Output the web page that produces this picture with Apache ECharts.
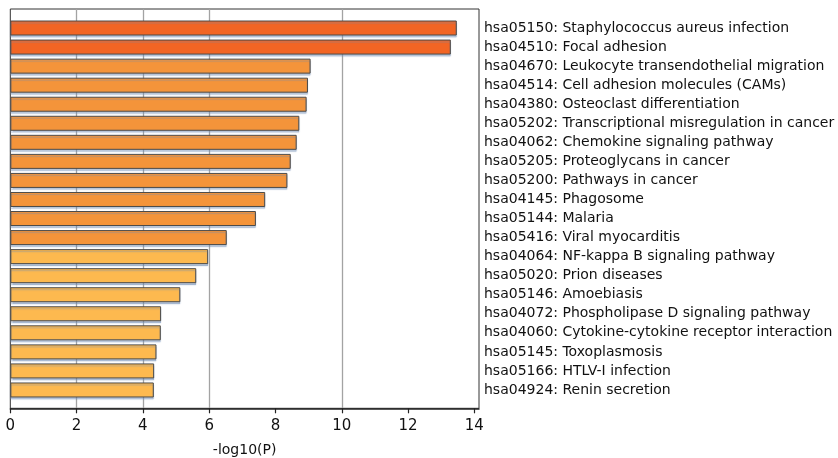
<!DOCTYPE html>
<html>
<head>
<meta charset="utf-8">
<script src="https://cdn.jsdelivr.net/npm/echarts@6/dist/echarts.min.js"></script>
<style>
  html, body { margin: 0; padding: 0; background: #fff; }
  #chart { width: 838px; height: 458px; }
</style>
</head>
<body>
<div id="chart"></div>
<script>
// KEGG pathway enrichment, top-down order
const pathways = [
  'hsa05150: Staphylococcus aureus infection',
  'hsa04510: Focal adhesion',
  'hsa04670: Leukocyte transendothelial migration',
  'hsa04514: Cell adhesion molecules (CAMs)',
  'hsa04380: Osteoclast differentiation',
  'hsa05202: Transcriptional misregulation in cancer',
  'hsa04062: Chemokine signaling pathway',
  'hsa05205: Proteoglycans in cancer',
  'hsa05200: Pathways in cancer',
  'hsa04145: Phagosome',
  'hsa05144: Malaria',
  'hsa05416: Viral myocarditis',
  'hsa04064: NF-kappa B signaling pathway',
  'hsa05020: Prion diseases',
  'hsa05146: Amoebiasis',
  'hsa04072: Phospholipase D signaling pathway',
  'hsa04060: Cytokine-cytokine receptor interaction',
  'hsa05145: Toxoplasmosis',
  'hsa05166: HTLV-I infection',
  'hsa04924: Renin secretion'
];
const negLog10P = [
  13.47, 13.29, 9.06, 8.98, 8.94, 8.72, 8.64, 8.46, 8.36, 7.69,
  7.41, 6.53, 5.97, 5.61, 5.13, 4.55, 4.54, 4.41, 4.34, 4.33
];
// significance tier of each term: 0 strongest, 2 weakest
const tiers = [0, 0, 1, 1, 1, 1, 1, 1, 1, 1, 1, 1, 2, 2, 2, 2, 2, 2, 2, 2];
const tierColors = ['#f26524', '#f4943a', '#fdb94f'];
const xTicks = [0, 2, 4, 6, 8, 10, 12, 14];

const FONT = 'DejaVu Sans';
const xMax = 14.14;
const gridColor = '#a3a3a3';
// vertical reference lines appear at 2, 4, 6 and 10 only
const shownGrid = [2, 4, 6, 10];
const splitColors = xTicks.map(v => shownGrid.includes(v) ? gridColor : 'rgba(0,0,0,0)');
splitColors.push('rgba(0,0,0,0)');

const chart = echarts.init(document.getElementById('chart'), null, { renderer: 'canvas' });

chart.setOption({
  animation: false,
  backgroundColor: '#ffffff',
  grid: [
    { left: 10.3, right: 359, top: 9, bottom: 49.7, show: true,
      outerBoundsMode: 'none', containLabel: false,
      borderColor: '#333333', borderWidth: 1, backgroundColor: 'transparent' },
    { left: 10.3, right: 359, top: 18.5, height: 381,
      outerBoundsMode: 'none', containLabel: false }
  ],
  xAxis: [
    {
      gridIndex: 0, type: 'value', min: 0, max: xMax, interval: 2,
      name: '-log10(P)', nameLocation: 'middle', nameGap: 35,
      nameMoveOverlap: false,
      nameTextStyle: { fontFamily: FONT, fontSize: 14, color: '#111' },
      axisLine: { show: true, lineStyle: { color: '#222', width: 1.5 } },
      axisTick: { show: true, length: 5, lineStyle: { color: '#222', width: 1.2 } },
      axisLabel: {
        fontFamily: FONT, fontSize: 15, color: '#111', margin: 10,
        showMaxLabel: false, showMinLabel: true
      },
      splitLine: { show: true, showMinLine: true, showMaxLine: true,
        lineStyle: { color: splitColors, width: 1.3 } }
    },
    { gridIndex: 1, type: 'value', min: 0, max: xMax, show: false }
  ],
  yAxis: [
    { gridIndex: 0, type: 'value', show: false },
    {
      gridIndex: 1, type: 'category', data: pathways, inverse: true,
      position: 'right',
      axisLine: { show: false }, axisTick: { show: false },
      splitLine: { show: false },
      axisLabel: {
        align: 'left', margin: 5, fontFamily: FONT, fontSize: 14, color: '#111'
      }
    }
  ],
  series: [
    {
      type: 'bar', xAxisIndex: 1, yAxisIndex: 1, barWidth: 15,
      data: negLog10P.map((v, i) => ({
        value: v,
        itemStyle: { color: tierColors[tiers[i]] }
      })),
      itemStyle: {
        borderColor: '#4a4a4a', borderWidth: 1,
        shadowColor: 'rgba(110,140,180,0.45)', shadowOffsetY: 2, shadowBlur: 1
      }
    }
  ]
});
</script>
</body>
</html>
